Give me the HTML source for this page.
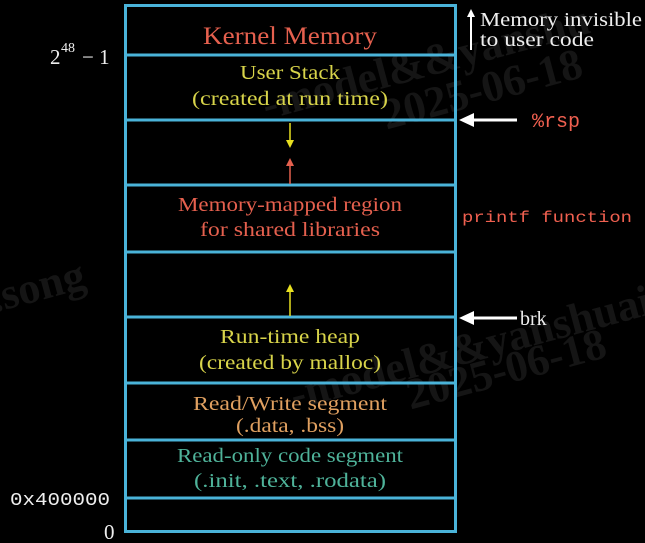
<!DOCTYPE html>
<html><head><meta charset="utf-8"><style>
html,body{margin:0;padding:0;background:#000;}
svg{display:block}
text{font-family:"Liberation Serif",serif;}
.m{font-family:"Liberation Mono",monospace;}
</style></head><body>
<svg width="645" height="543" viewBox="0 0 645 543" xmlns="http://www.w3.org/2000/svg">
<rect width="645" height="543" fill="#000"/>
<g fill="#151515" style="font-family:'Liberation Sans',sans-serif;font-weight:bold" font-size="44">
<text x="260" y="110" transform="rotate(-15 300 90)">-model&amp;&amp;yanshu</text>
<text x="380" y="120" transform="rotate(-15 420 100)">2025-06-18</text>
<text x="280" y="380" transform="rotate(-15 400 340)">-model&amp;&amp;yanshuai</text>
<text x="400" y="390" transform="rotate(-15 480 360)">2025-06-18</text>
<text x="-10" y="300" transform="rotate(-15 40 290)">.song</text>
</g>
<g stroke="#4ab3d9" stroke-width="3" fill="none">
<rect x="125.5" y="5.5" width="330" height="526"/>
<line x1="125" y1="55" x2="456" y2="55"/>
<line x1="125" y1="120" x2="456" y2="120"/>
<line x1="125" y1="185" x2="456" y2="185"/>
<line x1="125" y1="252" x2="456" y2="252"/>
<line x1="125" y1="317" x2="456" y2="317"/>
<line x1="125" y1="383" x2="456" y2="383"/>
<line x1="125" y1="440" x2="456" y2="440"/>
<line x1="125" y1="498" x2="456" y2="498"/>
</g>
<g text-anchor="middle" font-size="20" lengthAdjust="spacingAndGlyphs">
<text x="290" y="44" fill="#e5604e" font-size="25" textLength="174" lengthAdjust="spacingAndGlyphs">Kernel Memory</text>
<text x="290" y="79" fill="#d8d44a" textLength="100" lengthAdjust="spacingAndGlyphs">User Stack</text>
<text x="290" y="105" fill="#d8d44a" textLength="196" lengthAdjust="spacingAndGlyphs">(created at run time)</text>
<text x="290" y="211" fill="#e5604e" textLength="224" lengthAdjust="spacingAndGlyphs">Memory-mapped region</text>
<text x="290" y="236" fill="#e5604e" textLength="180" lengthAdjust="spacingAndGlyphs">for shared libraries</text>
<text x="290" y="343" fill="#d8d44a" textLength="140" lengthAdjust="spacingAndGlyphs">Run-time heap</text>
<text x="290" y="369" fill="#d8d44a" textLength="182" lengthAdjust="spacingAndGlyphs">(created by malloc)</text>
<text x="290" y="410" fill="#e0a060" textLength="194" lengthAdjust="spacingAndGlyphs">Read/Write segment</text>
<text x="290" y="432" fill="#e0a060" textLength="108" lengthAdjust="spacingAndGlyphs">(.data, .bss)</text>
<text x="290" y="462" fill="#4fb39a" textLength="226" lengthAdjust="spacingAndGlyphs">Read-only code segment</text>
<text x="290" y="487" fill="#4fb39a" textLength="192" lengthAdjust="spacingAndGlyphs">(.init, .text, .rodata)</text>
</g>
<line x1="290" y1="123" x2="290" y2="142" stroke="#e8e020" stroke-width="1.5"/>
<polygon points="286,140 294,140 290,148" fill="#e8e020"/>
<line x1="290" y1="164" x2="290" y2="184" stroke="#e5604e" stroke-width="1.5"/>
<polygon points="286,166 294,166 290,158" fill="#e5604e"/>
<line x1="290" y1="292" x2="290" y2="316" stroke="#e8e020" stroke-width="1.5"/>
<polygon points="286,292 294,292 290,284" fill="#e8e020"/>
<line x1="471" y1="14" x2="471" y2="50" stroke="#fff" stroke-width="2"/>
<polygon points="467,17 475,17 471,9" fill="#fff"/>
<text x="480" y="26" fill="#eee" font-size="20" textLength="162" lengthAdjust="spacingAndGlyphs">Memory invisible</text>
<text x="480" y="46" fill="#eee" font-size="20" textLength="114" lengthAdjust="spacingAndGlyphs">to user code</text>
<line x1="470" y1="120" x2="517" y2="120" stroke="#fff" stroke-width="3"/>
<polygon points="459,120 474,113 474,127" fill="#fff"/>
<text class="m" x="532" y="127" fill="#f06050" font-size="20">%rsp</text>
<text class="m" x="462" y="222" fill="#f06050" font-size="16" textLength="170" lengthAdjust="spacingAndGlyphs">printf function</text>
<line x1="470" y1="318" x2="517" y2="318" stroke="#fff" stroke-width="3"/>
<polygon points="459,318 474,311 474,325" fill="#fff"/>
<text x="520" y="325" fill="#eee" font-size="20">brk</text>
<text x="50" y="64" fill="#eee" font-size="21">2</text>
<text x="61" y="52" fill="#eee" font-size="14">48</text>
<text x="82" y="64" fill="#eee" font-size="21">− 1</text>
<text class="m" x="10" y="505" fill="#eee" font-size="18" textLength="100" lengthAdjust="spacingAndGlyphs">0x400000</text>
<text x="104" y="539" fill="#eee" font-size="21">0</text>
</svg>
</body></html>
